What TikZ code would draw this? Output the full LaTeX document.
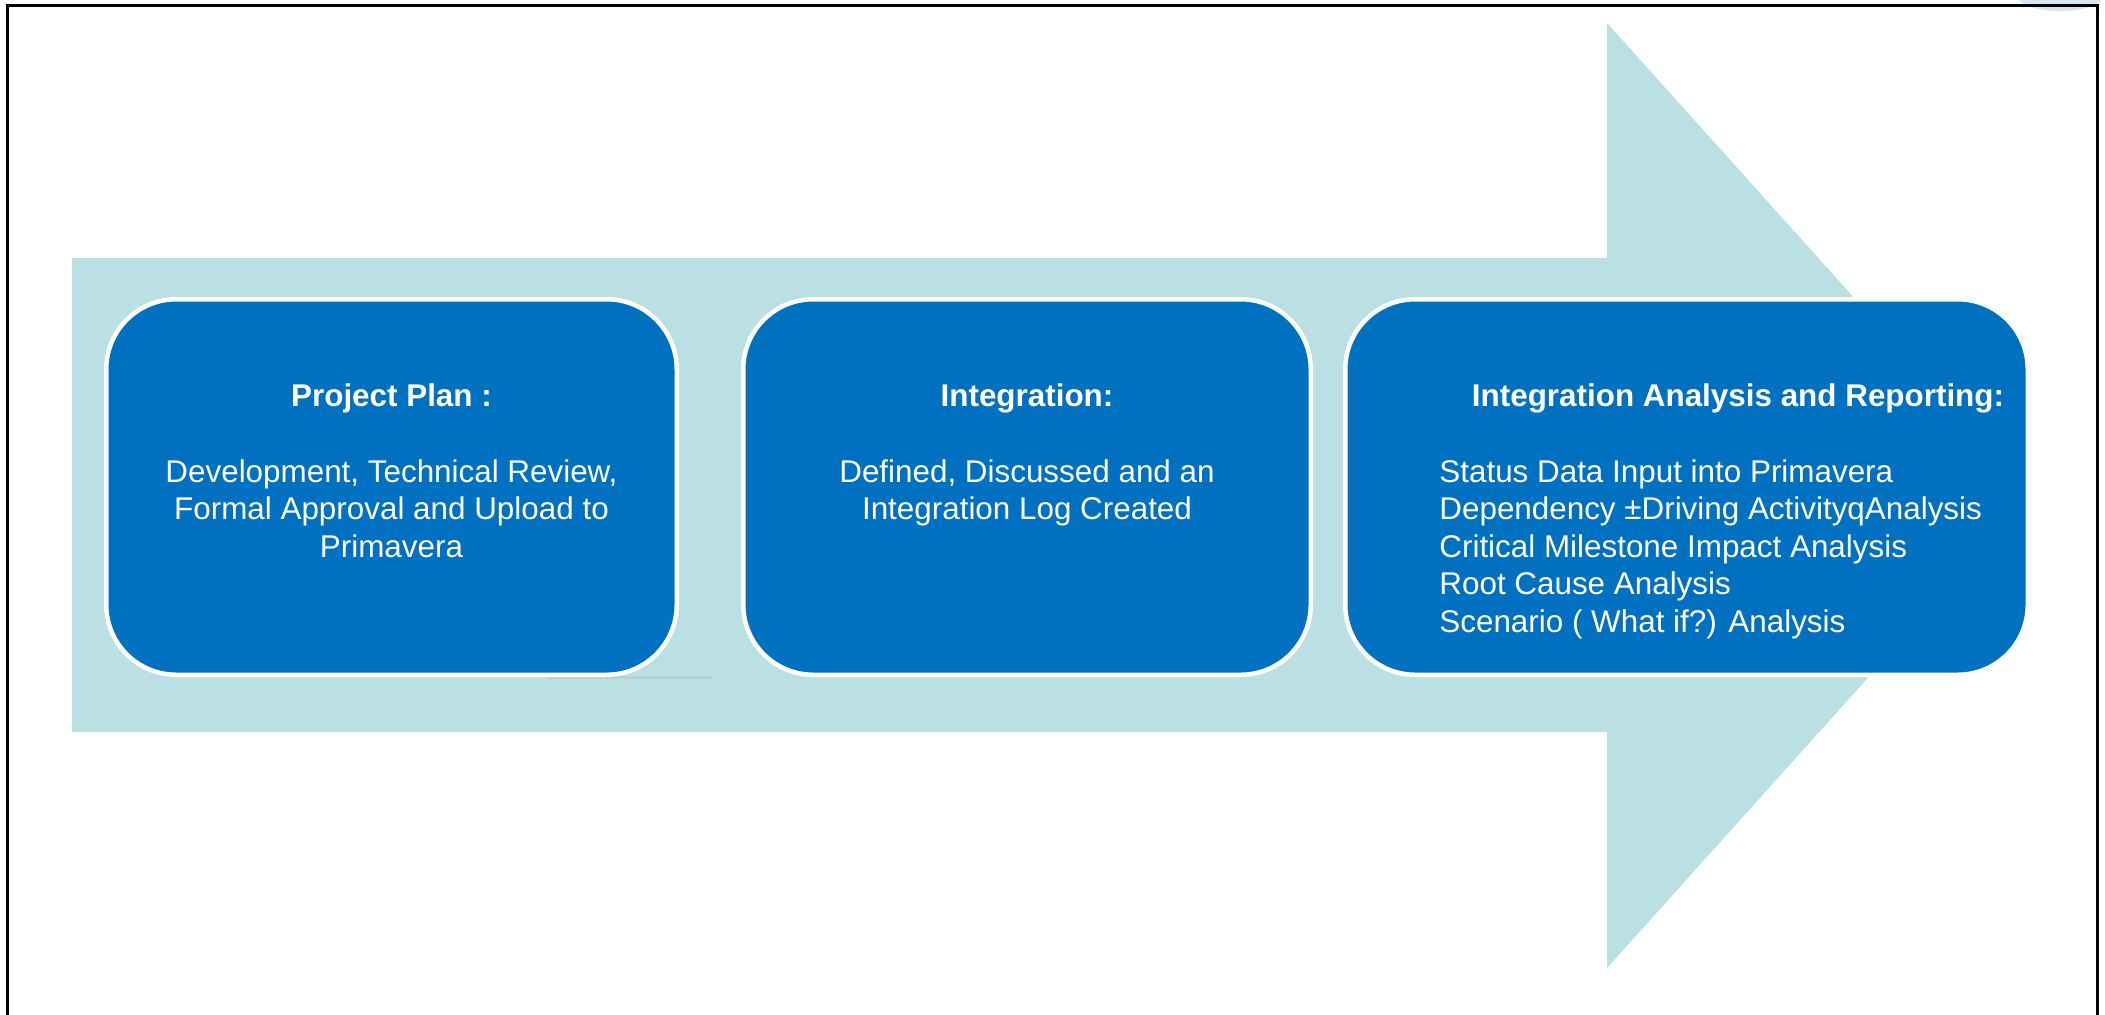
\documentclass[tikz,border=0pt]{standalone}
\usepackage{fontspec}
\setmainfont{Liberation Sans}
\definecolor{arrowblue}{HTML}{BBE0E3}
\definecolor{boxblue}{HTML}{0070C0}
\definecolor{faintblue}{HTML}{D3E8F3}
\definecolor{strayline}{HTML}{B0D2D6}
\begin{document}
\begin{tikzpicture}[x=0.5pt,y=-0.5pt,
  stepbox/.style={draw=white, line width=2.25pt, fill=boxblue, rounded corners=35pt,
    minimum height=187.75pt, inner sep=0pt},
  titletext/.style={text=white, inner sep=0pt, font=\fontsize{15.7pt}{18.75pt}\selectfont\bfseries},
  bodytext/.style={text=white, inner sep=0pt, font=\fontsize{15.7pt}{18.75pt}\selectfont}]
\useasboundingbox (0,0) rectangle (2105,1014);
\fill[white] (0,0) rectangle (2105,1014);
% faint artefact top right
\fill[faintblue] (2060,-3) ellipse [x radius=21pt, y radius=7pt];
% big arrow
\fill[arrowblue] (72,258) -- (1607,258) -- (1607,23) -- (2026,489) -- (2026,502) -- (1607,968)
  -- (1607,732) -- (72,732) -- cycle;
% frame
\draw[black, line width=1.5pt] (7.5,5.5) rectangle (2097,1040);
% stray line under first box
\coordinate (s1) at (548,677);
\coordinate (s2) at (712,677);
\draw[strayline, line width=1.5pt] (s1) -- (s2);
% boxes
\node[stepbox, minimum width=285.25pt] (b1) at (391.5,487) {};
\node[stepbox, minimum width=283.75pt] (b2) at (1027,487) {};
\node[stepbox, minimum width=341.25pt] (b3) at (1686.5,487) {};
% texts
\node[titletext, anchor=base] (t1) at (391.5,406) {Project Plan :};
\node[bodytext, anchor=base, align=center] (d1) at (391.5,557)
  {Development, Technical Review,\\Formal Approval and Upload to\\Primavera};
\node[titletext, anchor=base] (t2) at (1027,406) {Integration:};
\node[bodytext, anchor=base, align=center] (d2) at (1027,519.5)
  {Defined, Discussed and an\\Integration Log Created};
\node[titletext, anchor=base] (t3) at (1738,406) {Integration Analysis and Reporting:};
\node[bodytext, anchor=base west, align=left] (d3) at (1439,632)
  {Status Data Input into Primavera\\Dependency ±Driving ActivityqAnalysis\\Critical Milestone Impact Analysis\\Root Cause Analysis\\Scenario ( What if?) Analysis};
\end{tikzpicture}
\end{document}
